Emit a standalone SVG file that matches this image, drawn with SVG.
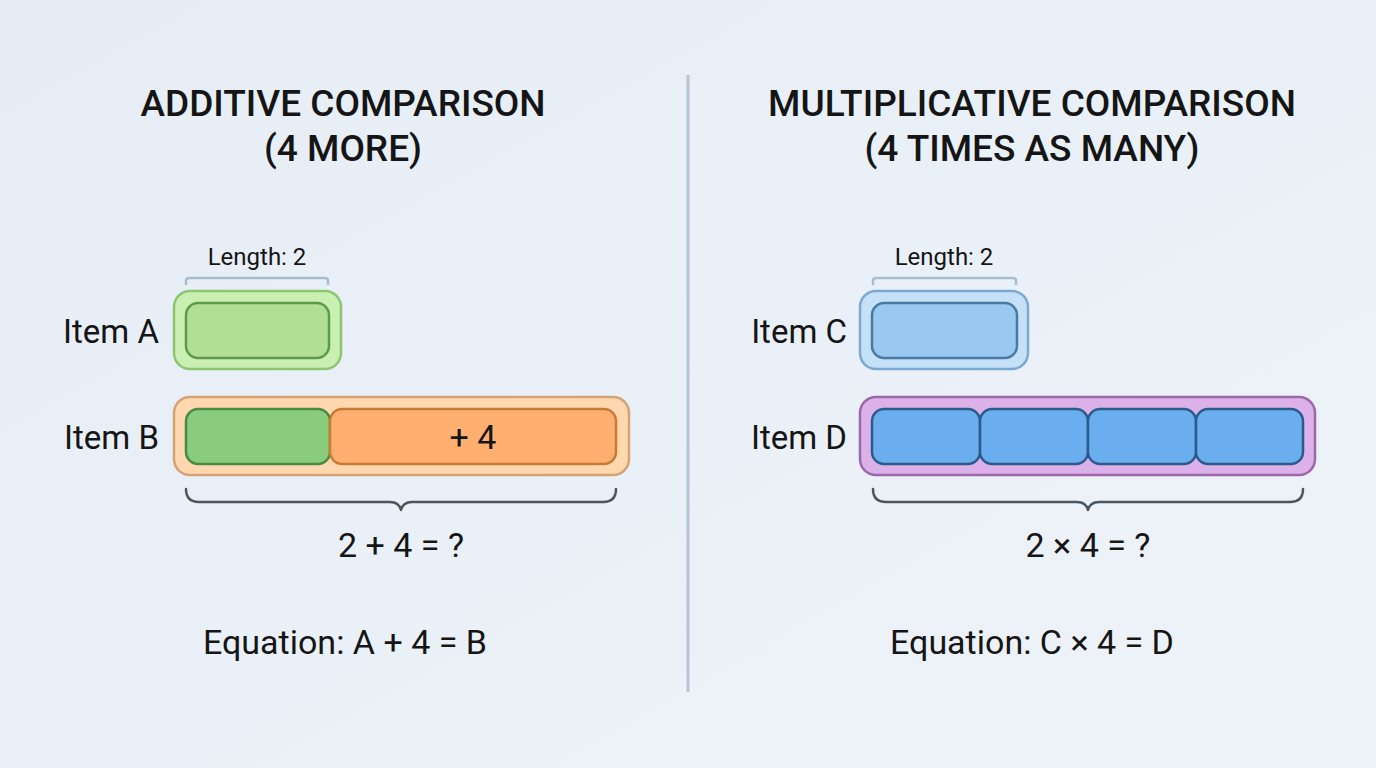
<svg xmlns="http://www.w3.org/2000/svg" width="1376" height="768" viewBox="0 0 1376 768">
<defs>
<linearGradient id="bg" x1="0" y1="0" x2="1" y2="1">
<stop offset="0" stop-color="#e6edf6"/>
<stop offset="1" stop-color="#eef3f8"/>
</linearGradient>
<style>
text{font-family:Roboto,"Liberation Sans",sans-serif;fill:#151515}
.title{font-size:37px;font-weight:500;text-anchor:middle}
.lbl{font-size:33px;text-anchor:end}
.len{font-size:24px;text-anchor:middle}
.eq{font-size:34px;text-anchor:middle}
.small-br{fill:none;stroke:#a9bcd2;stroke-width:2.5;stroke-linecap:round}
.brace{fill:none;stroke:#4b5661;stroke-width:2.5;stroke-linecap:round;stroke-linejoin:round}
</style>
</defs>
<rect width="1376" height="768" fill="url(#bg)"/>
<line x1="688" y1="75" x2="688" y2="692" stroke="#b3c6d9" stroke-width="3"/>

<g id="title-left">
<text class="title" x="343" y="116">ADDITIVE COMPARISON</text>
<text class="title" x="343" y="161">(4 MORE)</text>
</g>
<g id="title-right">
<text class="title" x="1032" y="116">MULTIPLICATIVE COMPARISON</text>
<text class="title" x="1032" y="161">(4 TIMES AS MANY)</text>
</g>

<g id="connectors">
<path class="small-br" d="M186,284 V281 Q186,278 189,278 H325 Q328,278 328,281 V284"/>
<path class="small-br" d="M873,284 V281 Q873,278 876,278 H1013 Q1016,278 1016,281 V284"/>
<path class="brace" d="M186,489 Q186,502 199,502 H390 Q399,502 401,510 Q403,502 412,502 H603 Q616,502 616,489"/>
<path class="brace" d="M873,489 Q873,502 886,502 H1077 Q1086,502 1088,510 Q1090,502 1099,502 H1290 Q1303,502 1303,489"/>
</g>

<g id="item-a">
<text class="lbl" x="159" y="343">Item A</text>
<text class="len" x="257" y="265">Length: 2</text>
<rect x="174" y="291" width="167" height="78" rx="16" fill="#c9efb2" stroke="#8dc672" stroke-width="2.5"/>
<rect x="186" y="303" width="143" height="55" rx="12" fill="#b1e094" stroke="#5f9a4c" stroke-width="2.5"/>
</g>

<g id="item-b">
<text class="lbl" x="159" y="449">Item B</text>
<rect x="174" y="397" width="455" height="78" rx="16" fill="#ffd8b0" stroke="#d6a273" stroke-width="2.5"/>
<rect x="186" y="409" width="144" height="55" rx="12" fill="#89cc7d" stroke="#4b8a41" stroke-width="2.5"/>
<rect x="330" y="409" width="286" height="55" rx="12" fill="#ffb070" stroke="#c97a34" stroke-width="2.5"/>
<text x="473" y="449" style="font-size:34px;text-anchor:middle">+ 4</text>
</g>

<g id="calc-left">
<text class="eq" x="401" y="557">2 + 4 = ?</text>
<text class="eq" x="345" y="654">Equation: A + 4 = B</text>
</g>

<g id="item-c">
<text class="lbl" x="847" y="343">Item C</text>
<text class="len" x="944" y="265">Length: 2</text>
<rect x="860" y="291" width="168" height="78" rx="16" fill="#c5e1f8" stroke="#7ba9d1" stroke-width="2.5"/>
<rect x="872" y="303" width="145" height="55" rx="12" fill="#99c8f0" stroke="#4b79a1" stroke-width="2.5"/>
</g>

<g id="item-d">
<text class="lbl" x="847" y="449">Item D</text>
<rect x="860" y="397" width="455" height="78" rx="16" fill="#dcb1ea" stroke="#9b69a9" stroke-width="2.5"/>
<rect x="872" y="409" width="108" height="55" rx="12" fill="#6aaef0" stroke="#2b5b89" stroke-width="2.5"/>
<rect x="980" y="409" width="108" height="55" rx="12" fill="#6aaef0" stroke="#2b5b89" stroke-width="2.5"/>
<rect x="1088" y="409" width="108" height="55" rx="12" fill="#6aaef0" stroke="#2b5b89" stroke-width="2.5"/>
<rect x="1196" y="409" width="107" height="55" rx="12" fill="#6aaef0" stroke="#2b5b89" stroke-width="2.5"/>
</g>

<g id="calc-right">
<text class="eq" x="1088" y="557">2 × 4 = ?</text>
<text class="eq" x="1032" y="654">Equation: C × 4 = D</text>
</g>
</svg>
